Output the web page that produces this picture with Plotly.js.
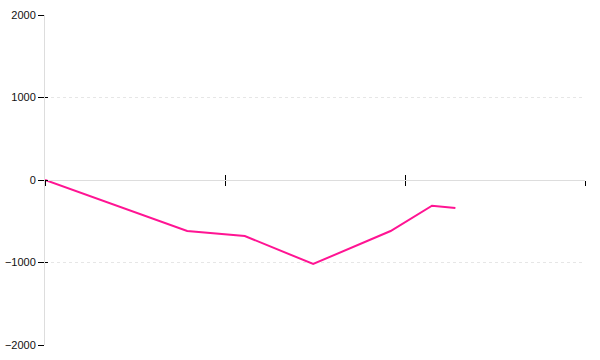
<!DOCTYPE html>
<html>
<head>
<meta charset="utf-8">
<script src="https://cdn.plot.ly/plotly-3.0.1.min.js"></script>
<style>html,body{margin:0;padding:0;background:#fff;}#chart{width:600px;height:360px;}</style>
</head>
<body>
<div id="chart"></div>
<script>
const xValues = [0, 0.79, 1.11, 1.49, 1.92, 2.15, 2.28];
const yValues = [0, -618, -679, -1018, -618, -311, -339];
const yTicks = [-2000, -1000, 0, 1000, 2000];
const xTicks = [0, 1, 2, 3];

const tickFont = {family: 'Liberation Sans, Arial, sans-serif', size: 11, color: '#111'};

const data = [
  {x: xValues, y: yValues, type: 'scatter', mode: 'lines',
   line: {color: '#ff1493', width: 2}, hoverinfo: 'skip', showlegend: false},
  {x: [], y: [], type: 'scatter', mode: 'lines', xaxis: 'x2', yaxis: 'y2', showlegend: false}
];

const layout = {
  width: 600, height: 360,
  margin: {l: 45, r: 15, t: 15, b: 15},
  paper_bgcolor: '#fff', plot_bgcolor: '#fff',
  showlegend: false,
  xaxis: {
    range: [0, 3], anchor: 'free', position: 0.5,
    tickvals: xTicks, showticklabels: false,
    ticks: 'outside', ticklen: 5, tickwidth: 1, tickcolor: '#000',
    showline: true, linecolor: '#ddd', linewidth: 1,
    showgrid: false, zeroline: false
  },
  xaxis2: {
    range: [0, 3], overlaying: 'x', anchor: 'free', position: 0.5,
    tickvals: xTicks, showticklabels: false,
    ticks: 'inside', ticklen: 5, tickwidth: 1, tickcolor: '#000',
    showline: false, showgrid: false, zeroline: false
  },
  yaxis: {
    range: [-2000, 2000], tickvals: yTicks,
    ticks: 'outside', ticklen: 6, tickwidth: 1, tickcolor: '#000',
    tickfont: tickFont, ticklabelstandoff: 0,
    showline: true, linecolor: '#ddd', linewidth: 1,
    showgrid: true, gridcolor: '#e6e6e6', griddash: 'dot', gridwidth: 1,
    zeroline: false
  },
  yaxis2: {
    range: [-2000, 2000], overlaying: 'y', side: 'left', anchor: 'x',
    tickvals: yTicks, showticklabels: false,
    ticks: 'inside', ticklen: 3, tickwidth: 1, tickcolor: '#000',
    showline: false, showgrid: false, zeroline: false
  }
};

Plotly.newPlot('chart', data, layout, {displayModeBar: false, staticPlot: true});
</script>
</body>
</html>
